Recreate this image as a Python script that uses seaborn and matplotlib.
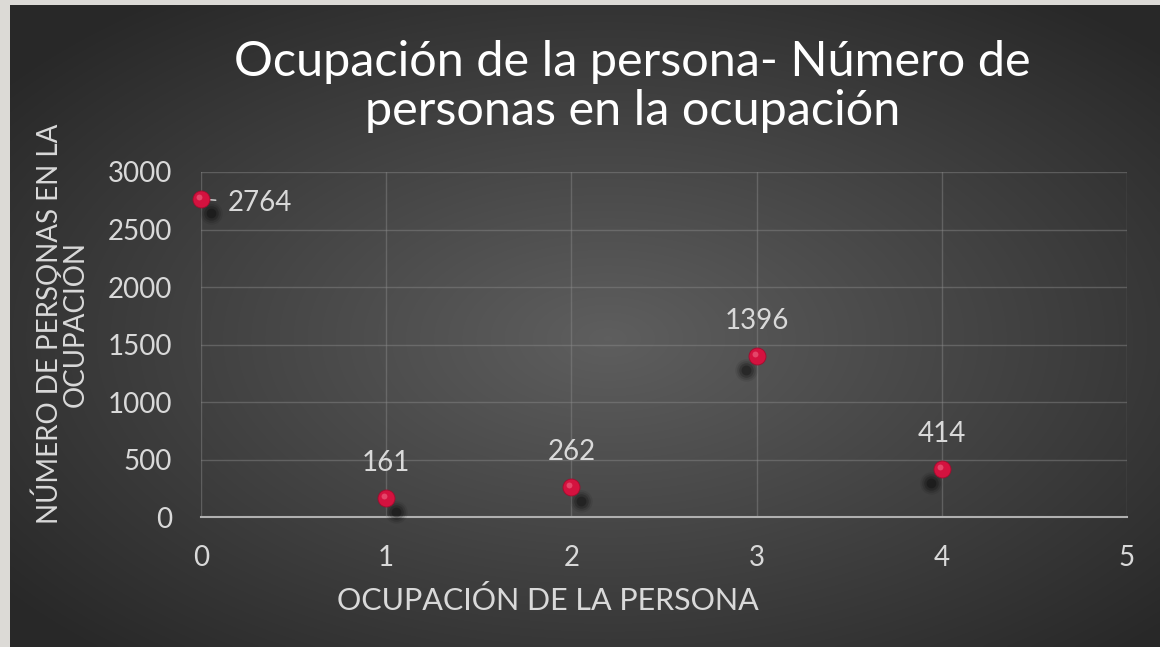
import numpy as np
import pandas as pd
import matplotlib.pyplot as plt
import matplotlib.transforms as mtransforms
import seaborn as sns

# === Data ===
ocupacion = [0, 1, 2, 3, 4]
personas = [2764, 161, 262, 1396, 414]
x_ticks = [0, 1, 2, 3, 4, 5]
y_ticks = [0, 500, 1000, 1500, 2000, 2500, 3000]

df = pd.DataFrame({'ocupacion': ocupacion, 'personas': personas})

sns.set_theme(style="dark")
plt.rcParams['font.family'] = ['Lato', 'DejaVu Sans']

W, H = 1160, 647
fig = plt.figure(figsize=(W / 100, H / 100), dpi=100)
fig.patch.set_facecolor('#dcdad6')

# === Dark radial gradient background ===
bg = fig.add_axes([10 / W, 0, 1 - 10 / W, 1 - 5 / H])
bg.set_axis_off()
yy, xx = np.mgrid[0:1:300j, 0:1:500j]
r = np.sqrt(((xx - 0.52) / 0.75) ** 2 + ((yy - 0.52) / 0.75) ** 2)
shade = np.clip(0.37 - 0.24 * r, 0.16, 0.37)
bg.imshow(np.dstack([shade] * 3), aspect='auto', extent=[0, 1, 0, 1], interpolation='bicubic')

# === Plot area ===
ax = fig.add_axes([201 / W, 1 - 517 / H, (1127 - 201) / W, (517 - 172) / H])
ax.patch.set_alpha(0)

# soft shadows of the markers: left half casts to the right, right half to the left
for side, sub in df.groupby(df['ocupacion'] < 2.5):
    dx = 10 if side else -11
    tr = mtransforms.offset_copy(ax.transData, fig=fig, x=dx, y=-14, units='dots')
    for size, alpha in [(260, 0.08), (180, 0.12), (110, 0.18), (50, 0.25)]:
        ax.scatter(sub['ocupacion'], sub['personas'], s=size, color='black', alpha=alpha,
                   linewidths=0, transform=tr, zorder=3, clip_on=False)

sns.scatterplot(data=df, x='ocupacion', y='personas', ax=ax, s=150, color='#d4123f',
                edgecolor='#a00c2e', linewidth=0.6, zorder=5, legend=False, clip_on=False)
# small highlight on the spheres
hl_tr = mtransforms.offset_copy(ax.transData, fig=fig, x=-2, y=2, units='dots')
ax.scatter(df['ocupacion'], df['personas'], s=18, color='#f3708c', alpha=0.55,
           linewidths=0, transform=hl_tr, zorder=6, clip_on=False)

# data labels
for xv, yv in zip(ocupacion, personas):
    if xv == 0:
        ax.annotate(str(yv), (xv, yv), xytext=(19, -3), textcoords='offset points',
                    ha='left', va='center', color='#d9d9d9', fontsize=20,
                    arrowprops=dict(arrowstyle='-', color='#d9d9d9', lw=1,
                                    shrinkA=6, shrinkB=0))
    else:
        ax.annotate(str(yv), (xv, yv), xytext=(0, 16), textcoords='offset points',
                    ha='center', va='bottom', color='#d9d9d9', fontsize=20)

ax.set_xlim(0, 5)
ax.set_ylim(0, 3000)
ax.set_xticks(x_ticks)
ax.set_yticks(y_ticks)
ax.grid(True, color='#8a8a8a', linewidth=1, alpha=0.45)
ax.tick_params(colors='#d9d9d9', labelsize=20, length=0, pad=20)
ax.tick_params(axis='y', pad=21)
for side in ['top', 'right', 'left']:
    ax.spines[side].set_visible(False)
ax.spines['bottom'].set_color('#b0b0b0')
ax.spines['bottom'].set_linewidth(1.5)

ax.set_xlabel('OCUPACIÓN DE LA PERSONA', color='#d9d9d9', fontsize=22)
ax.xaxis.set_label_coords((548 - 201) / 926, -(600 - 517) / 345)
ax.xaxis.label.set_va('center')
ax.set_ylabel('NÚMERO DE PERSONAS EN LA\nOCUPACIÓN', color='#d9d9d9', fontsize=20,
              linespacing=0.95)
ax.yaxis.set_label_coords(-(201 - 89) / 926, (517 - 324) / 345)

fig.text(0.545, 0.866, 'Ocupación de la persona- Número de\npersonas en la ocupación',
         ha='center', va='center', color='white', fontsize=35, linespacing=1.15)

plt.savefig('out.png', dpi=100)
